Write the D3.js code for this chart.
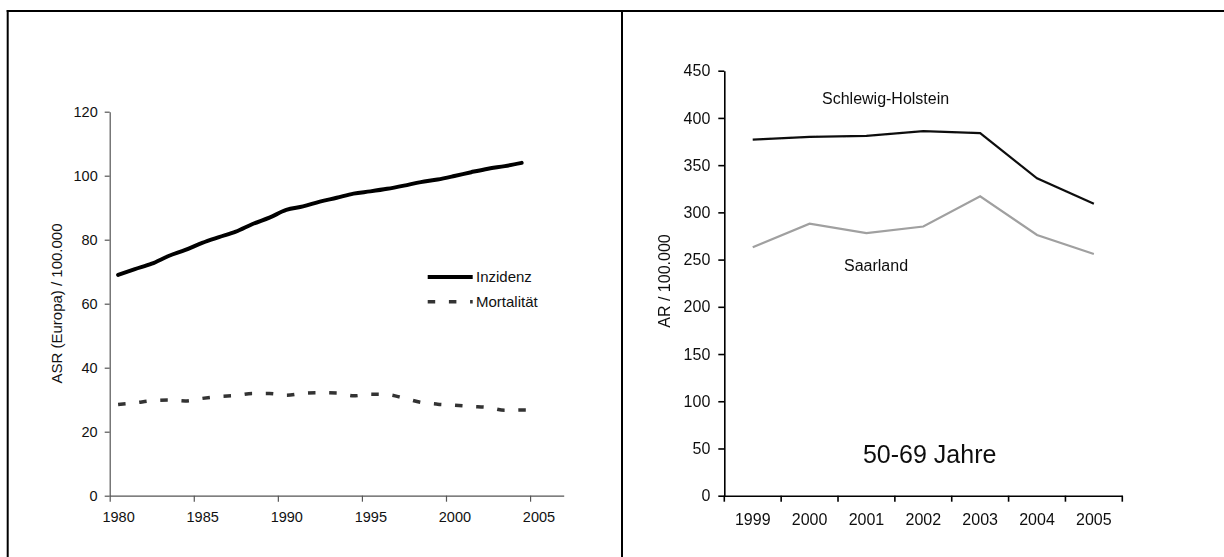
<!DOCTYPE html>
<html>
<head>
<meta charset="utf-8">
<script src="https://cdn.jsdelivr.net/npm/d3@7"></script>
<style>
  html, body { margin: 0; padding: 0; background: #fff; }
  svg { display: block; font-family: "Liberation Sans", Arial, sans-serif; }
</style>
</head>
<body>
<svg id="chart" width="1224" height="557"></svg>
<script>
// ---- Left panel: incidence (1980–2004) and mortality (1980–2005) ----
const yearsInzidenz = [1980, 1981, 1982, 1983, 1984, 1985, 1986, 1987, 1988, 1989, 1990, 1991, 1992,
                       1993, 1994, 1995, 1996, 1997, 1998, 1999, 2000, 2001, 2002, 2003, 2004];
const inzidenz = [69.0, 70.8, 72.5, 74.9, 76.8, 79.0, 80.8, 82.5, 84.9, 86.9, 89.3, 90.4, 91.9,
                  93.1, 94.4, 95.1, 95.9, 96.9, 98.0, 98.8, 99.9, 101.1, 102.2, 103.0, 104.0];
const yearsMortalitaet = [1980, 1981, 1982, 1983, 1984, 1985, 1986, 1987, 1988, 1989, 1990, 1991, 1992,
                          1993, 1994, 1995, 1996, 1997, 1998, 1999, 2000, 2001, 2002, 2003, 2004, 2005];
const mortalitaet = [28.5, 29.0, 29.7, 29.9, 29.6, 30.4, 31.0, 31.3, 31.9, 31.9, 31.4, 32.0, 32.2,
                     32.1, 31.2, 31.7, 31.6, 30.5, 29.2, 28.6, 28.3, 27.9, 27.6, 26.7, 26.8, 26.7];
const leftYTicks = [0, 20, 40, 60, 80, 100, 120];
const leftXTicks = [1980, 1985, 1990, 1995, 2000, 2005];

// ---- Right panel: rate per 100,000, age 50-69 ----
const yearsRight = ["1999", "2000", "2001", "2002", "2003", "2004", "2005"];
const schleswigHolstein = [377, 380, 381, 386, 384, 336, 309];
const saarland = [263, 288, 278, 285, 317, 276, 256];
const rightYTicks = [0, 50, 100, 150, 200, 250, 300, 350, 400, 450];

const svg = d3.select("#chart");

const defs = svg.append("defs");
defs.append("filter").attr("id", "soft")
  .append("feGaussianBlur").attr("stdDeviation", 0.4);

// Frame around both panels
const frame = svg.append("g").attr("stroke", "#000").attr("stroke-width", 2);
frame.append("line").attr("x1", 6.7).attr("x2", 1224).attr("y1", 11).attr("y2", 11);
frame.append("line").attr("x1", 7.7).attr("x2", 7.7).attr("y1", 10).attr("y2", 557);
frame.append("line").attr("x1", 622).attr("x2", 622).attr("y1", 10).attr("y2", 557);

// ================= Left panel =================
const L = svg.append("g").attr("font-size", 14.5).attr("fill", "#111");
const xL = d3.scaleLinear().domain([1980, 2007]).range([109.7, 563.7]);
const yL = d3.scaleLinear().domain([0, 120]).range([495.7, 111.7]);

const axLeftY = L.append("g").attr("transform", `translate(${xL(1980)},0)`)
  .call(d3.axisLeft(yL).tickValues(leftYTicks).tickSize(5).tickPadding(7).tickSizeOuter(0));
const axLeftX = L.append("g").attr("transform", `translate(0,${yL(0)})`)
  .call(d3.axisBottom(xL).tickValues(leftXTicks).tickSize(6).tickFormat("").tickSizeOuter(0));
// year labels sit in the middle of each yearly category
const axLeftXLabels = L.append("g").attr("transform", `translate(0,${yL(0)})`)
  .call(d3.axisBottom(xL).tickValues(leftXTicks.map(d => d + 0.5))
    .tickFormat(d => d3.format("d")(Math.floor(d))).tickSize(0).tickPadding(16));
axLeftXLabels.select(".domain").remove();
[axLeftY, axLeftX, axLeftXLabels].forEach(a => {
  a.selectAll(".domain, .tick line").attr("stroke", "#555").attr("stroke-width", 1.2);
  a.selectAll("text").attr("fill", "#111").attr("font-size", 14.5)
    .attr("font-family", "Liberation Sans, Arial, sans-serif");
});

L.append("text")
  .attr("transform", "rotate(-90)")
  .attr("x", -303.5).attr("y", 62)
  .attr("text-anchor", "middle")
  .attr("font-size", 15)
  .text("ASR (Europa) / 100.000");

const lineL = years => d3.line()
  .x((d, i) => xL(years[i] + 0.5)).y(d => yL(d)).curve(d3.curveMonotoneX);

L.append("path").datum(inzidenz)
  .attr("d", lineL(yearsInzidenz)).attr("fill", "none")
  .attr("stroke", "#000").attr("stroke-width", 4).attr("stroke-linecap", "round");
L.append("path").datum(mortalitaet)
  .attr("d", lineL(yearsMortalitaet)).attr("fill", "none")
  .attr("stroke", "#333").attr("stroke-width", 3.5).attr("stroke-dasharray", "7.5,13.7");

// Legend
const legend = L.append("g");
legend.append("line").attr("x1", 427.7).attr("x2", 472.7).attr("y1", 277).attr("y2", 277)
  .attr("stroke", "#000").attr("stroke-width", 4);
legend.append("text").attr("x", 476).attr("y", 282).attr("font-size", 15).text("Inzidenz");
legend.append("line").attr("x1", 427.7).attr("x2", 472.7).attr("y1", 301.7).attr("y2", 301.7)
  .attr("stroke", "#333").attr("stroke-width", 3.5).attr("stroke-dasharray", "7.5,13.7");
legend.append("text").attr("x", 476).attr("y", 307).attr("font-size", 15).text("Mortalität");

// ================= Right panel =================
const R = svg.append("g").attr("fill", "#111").attr("filter", "url(#soft)");
const xR = d3.scaleBand().domain(yearsRight).range([724.3, 1122.3]).padding(0);
const yR = d3.scaleLinear().domain([0, 450]).range([495.7, 70.7]);

const axRightY = R.append("g").attr("transform", `translate(${xR.range()[0]},0)`)
  .call(d3.axisLeft(yR).tickValues(rightYTicks).tickSize(6).tickPadding(8).tickSizeOuter(0));
const axRightX = R.append("g").attr("transform", `translate(0,${yR(0)})`)
  .call(d3.axisBottom(xR).tickSize(0).tickPadding(18).tickSizeOuter(0));
// tick marks at the category boundaries
const bounds = yearsRight.map(d => xR(d)).concat([xR.range()[1]]);
axRightX.selectAll(".bound").data(bounds).enter().append("line")
  .attr("class", "bound").attr("x1", d => d).attr("x2", d => d).attr("y1", 0).attr("y2", 6);
[axRightY, axRightX].forEach(a => {
  a.selectAll(".domain, .tick line, .bound").attr("stroke", "#000").attr("stroke-width", 1.6);
  a.selectAll("text").attr("fill", "#111").attr("font-size", 16)
    .attr("font-family", "Liberation Sans, Arial, sans-serif");
});

R.append("text")
  .attr("transform", "rotate(-90)")
  .attr("x", -281).attr("y", 670)
  .attr("text-anchor", "middle")
  .attr("font-size", 16)
  .text("AR / 100.000");

const lineR = d3.line().x((d, i) => xR(yearsRight[i]) + xR.bandwidth() / 2).y(d => yR(d));
R.append("path").datum(saarland).attr("d", lineR).attr("fill", "none")
  .attr("stroke", "#a0a0a0").attr("stroke-width", 2.2);
R.append("path").datum(schleswigHolstein).attr("d", lineR).attr("fill", "none")
  .attr("stroke", "#111").attr("stroke-width", 2.2);

R.append("text").attr("x", 822).attr("y", 104).attr("font-size", 16).text("Schlewig-Holstein");
R.append("text").attr("x", 844).attr("y", 270.5).attr("font-size", 16).text("Saarland");
R.append("text").attr("x", 929.7).attr("y", 462.5).attr("text-anchor", "middle")
  .attr("font-size", 25).text("50-69 Jahre");
</script>
</body>
</html>
